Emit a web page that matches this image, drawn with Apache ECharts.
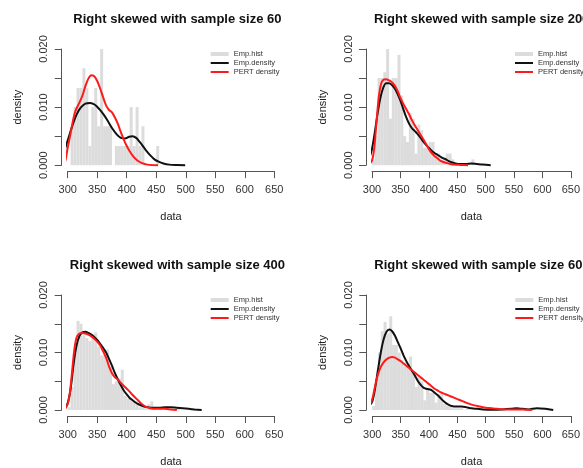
<!DOCTYPE html>
<html>
<head>
<meta charset="utf-8">
<script src="https://cdn.jsdelivr.net/npm/echarts@6/dist/echarts.min.js"></script>
<style>
  html, body { margin: 0; padding: 0; background: #fff; }
  #main { width: 583px; height: 468px; }
</style>
</head>
<body>
<div id="main"></div>
<script>
// sample sizes for the four panels
var sampleSizes = [60, 200, 400, 600];
var legendNames = ["Emp.hist", "Emp.density", "PERT density"];

// histogram bins: [bin start, density], bin width 5
var binWidth = 5;
var hist60 = [[305,0.0067],[310,0.0100],[315,0.0133],[320,0.0133],[325,0.0167],[330,0.0133],[335,0.0033],[340,0.0100],[345,0.0133],[350,0.0067],[355,0.0200],[360,0.0067],[365,0.0067],[370,0.0067],[380,0.0033],[385,0.0033],[390,0.0033],[395,0.0033],[400,0.0033],[405,0.0100],[410,0.0033],[415,0.0100],[420,0.0033],[425,0.0067],[450,0.0033]];
var hist200 = [[300,0.001],[305,0.005],[310,0.015],[315,0.015],[320,0.016],[325,0.021],[330,0.008],[335,0.015],[340,0.015],[345,0.019],[350,0.012],[355,0.005],[360,0.004],[365,0.009],[370,0.008],[375,0.002],[380,0.007],[385,0.006],[390,0.003],[395,0.003],[400,0.004],[405,0.004],[410,0.002],[415,0.002],[420,0.001],[425,0.001],[430,0.002],[435,0.002],[440,0.001],[475,0.001]];
var hist400 = [[300,0.0005],[305,0.004],[310,0.010],[315,0.0155],[320,0.015],[325,0.013],[330,0.0125],[335,0.012],[340,0.0125],[345,0.0135],[350,0.011],[355,0.0095],[360,0.0095],[365,0.0105],[370,0.0075],[375,0.0045],[380,0.005],[385,0.0055],[390,0.007],[395,0.0025],[400,0.002],[405,0.002],[410,0.0015],[415,0.0015],[420,0.0005],[425,0.0005],[430,0.0005],[435,0.001],[440,0.0015],[445,0.0005],[455,0.0005],[465,0.0005],[485,0.0005]];
var hist600 = [[300,0.0007],[305,0.005],[310,0.010],[315,0.0137],[320,0.0153],[325,0.0133],[330,0.0163],[335,0.0113],[340,0.0113],[345,0.010],[350,0.0087],[355,0.0083],[360,0.0077],[365,0.0093],[370,0.0067],[375,0.004],[380,0.0057],[385,0.005],[390,0.0017],[395,0.0037],[400,0.003],[405,0.003],[410,0.0013],[415,0.0027],[420,0.003],[425,0.001],[430,0.0007],[435,0.0007],[440,0.0003],[445,0.0003],[450,0.0003],[455,0.0003],[465,0.0003],[555,0.0003]];

// empirical (kernel) densities
var emp60 = [[289,0.0010],[295,0.0027],[301,0.0046],[308,0.0068],[315,0.0087],[322,0.0099],[330,0.0106],[338,0.0107],[346,0.0104],[354,0.0096],[361,0.0087],[368,0.0076],[375,0.0064],[383,0.0053],[390,0.0047],[397,0.0046],[404,0.0049],[410,0.0050],[416,0.0047],[422,0.0040],[428,0.0032],[434,0.0024],[440,0.0017],[447,0.0010],[454,0.0006],[462,0.0003],[472,0.0001],[485,0.00003],[499,0]];
var emp200 = [[289,0.0002],[295,0.0012],[300,0.0028],[305,0.0057],[310,0.0090],[315,0.0117],[320,0.0134],[325,0.0141],[330,0.0141],[335,0.0138],[340,0.0132],[345,0.0123],[350,0.0111],[355,0.0097],[360,0.0083],[365,0.0072],[370,0.0064],[375,0.0059],[380,0.0054],[385,0.0048],[390,0.0041],[395,0.0035],[400,0.0030],[405,0.0025],[410,0.0021],[415,0.0018],[420,0.0015],[425,0.0012],[430,0.0010],[435,0.0007],[440,0.0005],[447,0.0003],[455,0.0002],[465,0.0002],[475,0.0003],[485,0.0002],[495,0.0001],[509,0]];
var emp400 = [[290,0.0001],[295,0.0004],[300,0.0012],[305,0.0037],[310,0.0080],[315,0.0112],[320,0.0129],[325,0.0135],[330,0.0136],[335,0.0134],[340,0.0131],[345,0.0127],[350,0.0122],[355,0.0115],[360,0.0108],[365,0.0100],[370,0.0089],[375,0.0077],[380,0.0064],[385,0.0053],[390,0.0043],[395,0.0034],[400,0.0027],[405,0.0021],[410,0.0017],[415,0.0013],[420,0.0010],[427,0.0007],[435,0.0005],[445,0.0004],[455,0.0004],[465,0.0005],[475,0.0005],[485,0.0004],[495,0.0003],[505,0.0002],[515,0.0001],[527,0]];
var emp600 = [[288,0.0004],[294,0.0007],[300,0.0015],[305,0.0038],[310,0.0070],[315,0.0100],[320,0.0123],[325,0.0136],[330,0.0140],[335,0.0137],[340,0.0129],[345,0.0118],[350,0.0107],[355,0.0095],[360,0.0085],[365,0.0076],[370,0.0068],[375,0.0060],[380,0.0051],[385,0.0044],[390,0.0039],[395,0.0037],[400,0.0036],[405,0.0034],[410,0.0030],[415,0.0026],[420,0.0021],[425,0.0016],[430,0.0012],[435,0.0009],[440,0.0007],[448,0.0006],[457,0.0006],[465,0.0005],[475,0.0003],[485,0.0002],[495,0.0001],[510,0.00005],[530,0.0001],[545,0.0002],[555,0.0003],[565,0.0002],[575,0.0001],[590,0.0003],[605,0.0002],[619,0]];

// fitted PERT densities
var pert60 = [[294,0],[297,0.0012],[300,0.0030],[304,0.0050],[308,0.0072],[312,0.0090],[316,0.0100],[320,0.0108],[325,0.0120],[330,0.0136],[335,0.0149],[340,0.0155],[345,0.0153],[350,0.0145],[355,0.0132],[360,0.0117],[365,0.0103],[370,0.0095],[375,0.0091],[380,0.0082],[385,0.0071],[390,0.0057],[395,0.0044],[400,0.0033],[405,0.0024],[411,0.0015],[418,0.0008],[425,0.0004],[435,0.0001],[453,0]];
var pert200 = [[289,0],[295,0.0002],[300,0.0008],[304,0.0030],[308,0.0075],[312,0.0118],[316,0.0140],[320,0.0147],[325,0.0148],[330,0.0146],[335,0.0143],[340,0.0137],[345,0.0128],[350,0.0116],[355,0.0106],[360,0.0097],[365,0.0088],[370,0.0078],[375,0.0069],[380,0.0061],[385,0.0053],[390,0.0045],[395,0.0037],[400,0.0028],[405,0.0021],[410,0.0016],[415,0.0012],[420,0.0008],[427,0.0005],[435,0.0003],[445,0.0001],[455,0.00005],[469,0]];
var pert400 = [[292,0],[297,0.0004],[301,0.0014],[304,0.0032],[307,0.0062],[311,0.0103],[315,0.0126],[320,0.0133],[325,0.0134],[330,0.0133],[335,0.0131],[340,0.0128],[345,0.0124],[350,0.0119],[355,0.0112],[360,0.0102],[365,0.0091],[370,0.0076],[375,0.0064],[380,0.0057],[385,0.0053],[390,0.0047],[395,0.0042],[400,0.0037],[405,0.0032],[410,0.0026],[415,0.0021],[420,0.0016],[425,0.0011],[432,0.0006],[440,0.0003],[450,0.0002],[465,0.0002],[475,0.0001],[485,0]];
var pert600 = [[288,0.0001],[294,0.0006],[300,0.0019],[305,0.0042],[310,0.0062],[315,0.0075],[320,0.0083],[325,0.0088],[330,0.0091],[335,0.0092],[340,0.0091],[345,0.0088],[350,0.0085],[355,0.0081],[360,0.0077],[365,0.0073],[370,0.0069],[375,0.0065],[380,0.0061],[385,0.0057],[390,0.0053],[395,0.0049],[400,0.0045],[405,0.0041],[410,0.0037],[415,0.0034],[420,0.0031],[425,0.0029],[430,0.0027],[435,0.0025],[440,0.0023],[450,0.0019],[460,0.0015],[470,0.0011],[480,0.0008],[490,0.0006],[500,0.0004],[510,0.0003],[520,0.0002],[535,0.0001],[550,0.0001],[560,0.0001],[570,0.00005],[582,0]];

var hists = [hist60, hist200, hist400, hist600];
var emps = [emp60, emp200, emp400, emp600];
var perts = [pert60, pert200, pert400, pert600];

// panel placement (pixel position of x=300 / y=0.020)
var panelLeft = [67.7, 372, 67.7, 372.3];
var panelTop = [49, 49, 295, 295];
var plotW = 206.6, plotH = 116.2;

var font = "Liberation Sans";
var axisColor = "#555";
// thin line icon inside a 18x4 box
var lineIcon = "path://M0,0 M18,4 M0,1 L18,1 L18,3 L0,3 Z";

var option = {
  animation: false,
  backgroundColor: "#fff",
  title: [], legend: [], grid: [], xAxis: [], yAxis: [], series: []
};

sampleSizes.forEach(function (n, i) {
  option.title.push({
    text: "Right skewed with sample size " + n,
    left: panelLeft[i] + 104.7,
    top: panelTop[i] - 41,
    textAlign: "center",
    textStyle: { fontFamily: font, fontSize: 13, fontWeight: "bold", color: "#111" }
  });
  option.grid.push({ left: panelLeft[i], top: panelTop[i], width: plotW, height: plotH });
  option.xAxis.push({
    gridIndex: i, type: "value", min: 300, max: 650, interval: 50, offset: 6,
    axisLine: { show: true, onZero: false, lineStyle: { color: axisColor, width: 1 } },
    axisTick: { show: true, length: 7, lineStyle: { color: axisColor } },
    axisLabel: { margin: 13, fontSize: 11, fontFamily: font, color: "#333" },
    splitLine: { show: false },
    name: "data", nameLocation: "middle", nameGap: 40,
    nameTextStyle: { fontSize: 11, fontFamily: font, color: "#222" }
  });
  option.yAxis.push({
    gridIndex: i, type: "value", min: 0, max: 0.02, interval: 0.005, offset: 6,
    axisLine: { show: true, onZero: false, lineStyle: { color: axisColor, width: 1 } },
    axisTick: { show: true, length: 7, lineStyle: { color: axisColor } },
    axisLabel: {
      margin: 12, rotate: 90, fontSize: 11, fontFamily: font, color: "#333",
      formatter: function (v) {
        return Math.abs(v * 100 - Math.round(v * 100)) < 1e-9 ? v.toFixed(3) : "";
      }
    },
    splitLine: { show: false },
    name: "density", nameLocation: "middle", nameGap: 38,
    nameTextStyle: { fontSize: 11, fontFamily: font, color: "#222" }
  });
  option.legend.push({
    orient: "vertical",
    left: panelLeft[i] + 138,
    top: panelTop[i] - 4.5,
    itemWidth: 18, itemHeight: 4, itemGap: 0,
    selectedMode: false,
    textStyle: { fontSize: 7.5, lineHeight: 9, fontFamily: font, color: "#333" },
    data: [
      { name: legendNames[0], icon: "rect" },
      { name: legendNames[1], icon: lineIcon },
      { name: legendNames[2], icon: lineIcon }
    ]
  });
  option.series.push({
    name: legendNames[0], type: "bar", xAxisIndex: i, yAxisIndex: i,
    barWidth: 3, itemStyle: { color: "#dcdcdc" },
    data: hists[i].map(function (b) { return [b[0] + binWidth / 2, b[1]]; })
  });
  option.series.push({
    name: legendNames[1], type: "line", xAxisIndex: i, yAxisIndex: i,
    showSymbol: false, symbol: "none", smooth: 0.3, clip: false,
    lineStyle: { color: "#111", width: 2 }, itemStyle: { color: "#111" },
    data: emps[i]
  });
  option.series.push({
    name: legendNames[2], type: "line", xAxisIndex: i, yAxisIndex: i,
    showSymbol: false, symbol: "none", smooth: 0.3, clip: false,
    lineStyle: { color: "#ff1a1a", width: 2 }, itemStyle: { color: "#ff1a1a" },
    data: perts[i]
  });
});

var chart = echarts.init(document.getElementById("main"));
chart.setOption(option);
</script>
</body>
</html>
